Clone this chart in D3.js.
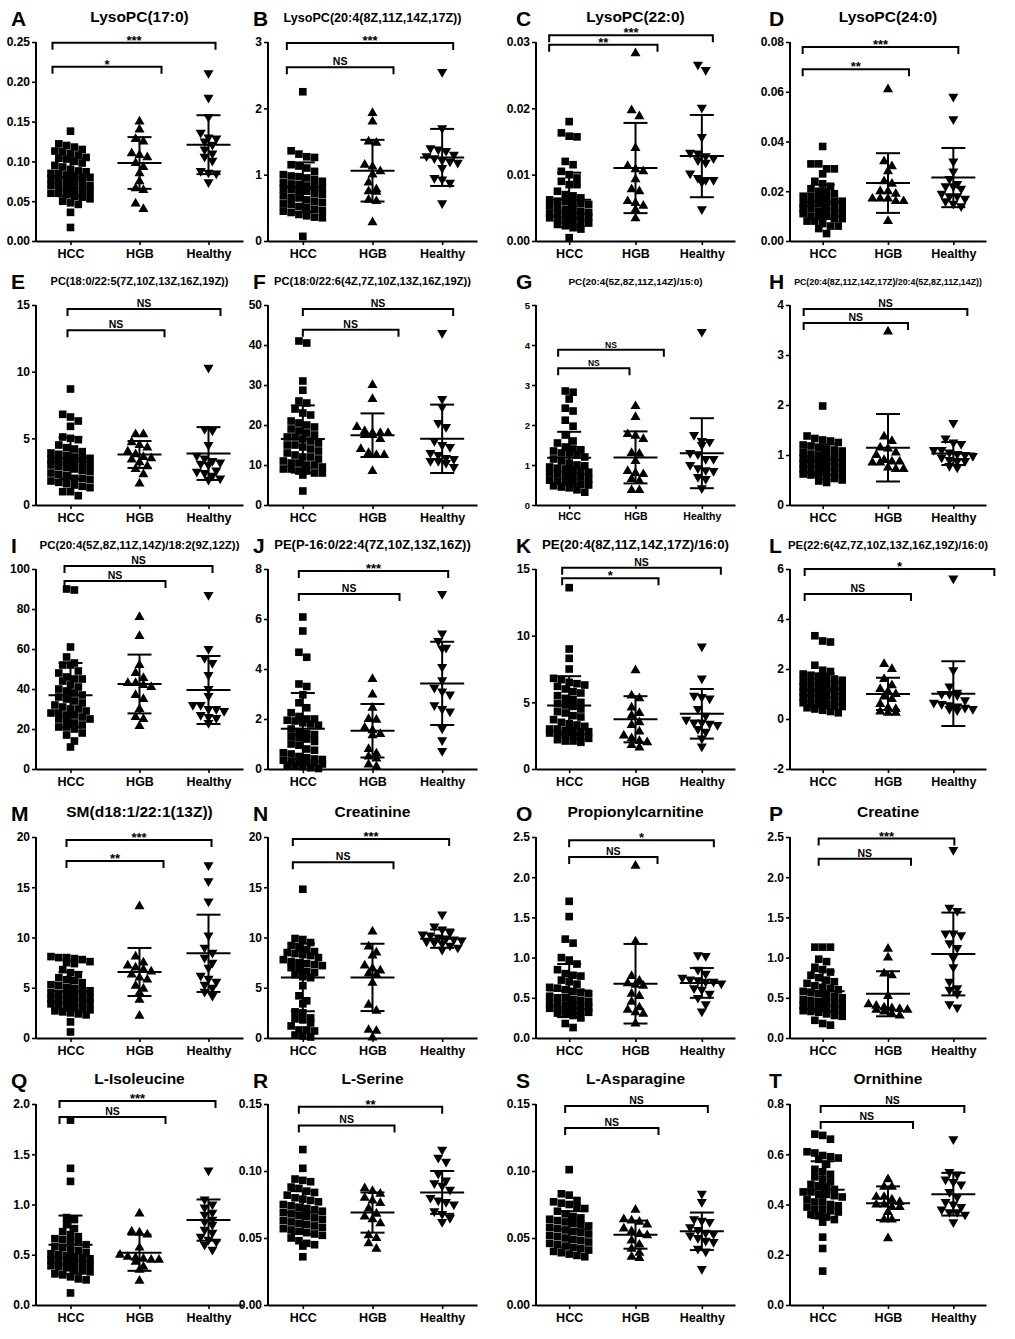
<!DOCTYPE html>
<html>
<head>
<meta charset="utf-8">
<script src="https://cdn.jsdelivr.net/npm/d3@7"></script>
<style>
  body { margin: 0; background: #fff; }
  svg text { font-family: "Liberation Sans", Arial, sans-serif; font-weight: bold; fill: #000; }
</style>
</head>
<body>
<svg id="fig" width="1015" height="1339"></svg>
<script>
// ---- DATA ----
const groups = ["HCC", "HGB", "Healthy"];
const letters = ["A","B","C","D","E","F","G","H","I","J","K","L","M","N","O","P","Q","R","S","T"];
const titles = [
  "LysoPC(17:0)", "LysoPC(20:4(8Z,11Z,14Z,17Z))", "LysoPC(22:0)", "LysoPC(24:0)",
  "PC(18:0/22:5(7Z,10Z,13Z,16Z,19Z))", "PC(18:0/22:6(4Z,7Z,10Z,13Z,16Z,19Z))",
  "PC(20:4(5Z,8Z,11Z,14Z)/15:0)", "PC(20:4(8Z,11Z,14Z,17Z)/20:4(5Z,8Z,11Z,14Z))",
  "PC(20:4(5Z,8Z,11Z,14Z)/18:2(9Z,12Z))", "PE(P-16:0/22:4(7Z,10Z,13Z,16Z))",
  "PE(20:4(8Z,11Z,14Z,17Z)/16:0)", "PE(22:6(4Z,7Z,10Z,13Z,16Z,19Z)/16:0)",
  "SM(d18:1/22:1(13Z))", "Creatinine", "Propionylcarnitine", "Creatine",
  "L-Isoleucine", "L-Serine", "L-Asparagine", "Ornithine"
];
const yMin = [0,0,0,0, 0,0,0,0, 0,0,0,-2, 0,0,0,0, 0,0,0,0];
const yMax = [0.25,3,0.03,0.08, 15,50,5,4, 100,8,15,6, 20,20,2.5,2.5, 2.0,0.15,0.15,0.8];
const tickStep = [0.05,1,0.01,0.02, 5,10,1,1, 20,2,5,2, 5,5,0.5,0.5, 0.5,0.05,0.05,0.2];
const decimals = [2,0,2,2, 0,0,0,0, 0,0,0,0, 0,0,1,1, 1,2,2,1];

// significance: HCC vs HGB (lower bracket), HCC vs Healthy (upper bracket)
const sigLow = ["*","NS","**","**","NS","NS","NS","NS","NS","NS","*","NS","**","NS","NS","NS","NS","NS","NS","NS"];
const sigTop = ["***","***","***","***","NS","NS","NS","NS","NS","***","NS","*","***","***","*","***","***","**","NS","NS"];
const bracketLow = [0.219,2.62,0.0296,0.069, 13.1,43.8,3.42,3.64, 94,7.0,14.3,5.0, 17.6,17.5,2.25,2.23, 1.87,0.134,0.132,0.728];
const bracketTop = [0.249,2.985,0.031,0.078, 14.7,49,3.88,3.92, 101.5,7.92,15.1,6.0, 19.7,19.8,2.46,2.48, 2.03,0.148,0.1485,0.792];

// mean and SD per group
const meanHCC = [0.080,0.81,0.0062,0.0158, 3.5,16.5,1.18,0.905, 36.9,1.61,4.77,1.18, 4.66,6.02,0.59,0.58, 0.60,0.069,0.0565,0.459];
const sdHCC = [0.024,0.375,0.0041,0.0068, 1.56,8.4,0.65,0.305, 16.1,1.43,2.19,0.64, 1.91,3.36,0.33,0.25, 0.29,0.016,0.0135,0.113];
const meanHGB = [0.098,1.06,0.011,0.0233, 3.79,17.45,1.19,1.145, 42.5,1.53,3.73,1.005, 6.57,6.03,0.675,0.55, 0.52,0.069,0.0525,0.405];
const sdHGB = [0.0325,0.465,0.0068,0.012, 1.01,5.45,0.65,0.675, 14.7,1.07,1.73,0.645, 2.39,3.35,0.495,0.28, 0.18,0.015,0.0105,0.067];
const meanHealthy = [0.121,1.26,0.0128,0.0255, 3.86,16.55,1.295,1.03, 39.5,3.425,4.14,1.015, 8.425,9.885,0.685,1.045, 0.845,0.084,0.055,0.441];
const sdHealthy = [0.037,0.43,0.0062,0.0119, 1.98,8.55,0.875,0.23, 17,1.665,1.86,1.295, 3.845,0.915,0.185,0.515, 0.205,0.016,0.014,0.085];

// individual samples
const hccA = [0.138,0.122,0.120,0.118,0.115,0.113,0.112,0.110,0.108,0.105,0.104,0.103,0.100,0.098,0.095,0.093,0.090,0.088,0.087,0.085,0.085,0.083,0.082,0.080,0.080,0.078,0.077,0.075,0.074,0.072,0.070,0.070,0.068,0.066,0.065,0.063,0.062,0.060,0.060,0.058,0.056,0.055,0.053,0.050,0.048,0.046,0.036,0.017];
const hgbA = [0.150,0.140,0.128,0.125,0.110,0.108,0.105,0.098,0.093,0.085,0.075,0.066,0.064,0.047,0.040];
const healthyA = [0.211,0.180,0.156,0.136,0.130,0.129,0.125,0.121,0.115,0.110,0.106,0.101,0.088,0.086,0.085,0.074];

const hccB = [2.25,1.36,1.31,1.27,1.26,1.15,1.13,1.10,1.05,1.00,0.98,0.97,0.95,0.93,0.90,0.88,0.86,0.85,0.83,0.82,0.80,0.79,0.78,0.76,0.75,0.72,0.70,0.68,0.66,0.65,0.62,0.60,0.58,0.56,0.55,0.52,0.50,0.48,0.46,0.45,0.43,0.40,0.38,0.36,0.35,0.07];
const hgbB = [1.93,1.80,1.50,1.48,1.15,1.12,1.05,1.00,0.88,0.78,0.75,0.74,0.62,0.60,0.28];
const healthyB = [2.55,1.70,1.40,1.38,1.36,1.30,1.28,1.25,1.22,1.20,1.18,1.10,0.95,0.93,0.88,0.57];

const hccC = [0.018,0.0163,0.0158,0.0157,0.012,0.0115,0.0105,0.0100,0.0095,0.0090,0.0085,0.0085,0.0075,0.0070,0.0068,0.0065,0.0062,0.0060,0.0060,0.0058,0.0057,0.0055,0.0053,0.0050,0.0048,0.0047,0.0045,0.0043,0.0042,0.0040,0.0040,0.0038,0.0037,0.0036,0.0035,0.0034,0.0032,0.0030,0.0028,0.0027,0.0025,0.0023,0.0020,0.0018,0.0005];
const hgbC = [0.0283,0.0197,0.0188,0.0140,0.0113,0.0108,0.0105,0.0093,0.0078,0.0075,0.0060,0.0057,0.0053,0.0047,0.0034];
const healthyC = [0.0266,0.0258,0.0201,0.0157,0.0133,0.0132,0.0128,0.0125,0.0122,0.0118,0.0102,0.0095,0.0092,0.0092,0.0089,0.0048];

const hccD = [0.038,0.031,0.031,0.029,0.029,0.027,0.024,0.023,0.022,0.021,0.020,0.020,0.019,0.018,0.018,0.017,0.017,0.016,0.016,0.015,0.015,0.015,0.014,0.014,0.013,0.013,0.013,0.012,0.012,0.011,0.011,0.011,0.010,0.010,0.010,0.009,0.009,0.008,0.008,0.007,0.006,0.006,0.005,0.003];
const hgbD = [0.061,0.032,0.030,0.028,0.024,0.023,0.020,0.020,0.019,0.017,0.017,0.017,0.016,0.016,0.008];
const healthyD = [0.058,0.049,0.032,0.028,0.025,0.023,0.022,0.022,0.021,0.019,0.018,0.018,0.017,0.016,0.015,0.014];

const hccE = [8.7,6.8,6.6,6.3,5.9,5.1,5.0,4.9,4.5,4.3,4.2,4.0,3.9,3.8,3.7,3.6,3.5,3.5,3.4,3.3,3.3,3.2,3.1,3.0,3.0,2.9,2.8,2.7,2.6,2.5,2.4,2.3,2.2,2.0,2.0,1.9,1.8,1.7,1.6,1.5,1.4,1.3,1.0,1.0,0.7];
const hgbE = [5.3,5.3,4.7,4.5,4.3,4.0,3.8,3.6,3.5,3.4,3.2,2.9,2.7,2.3,1.6];
const healthyE = [10.3,5.7,5.6,4.5,3.7,3.5,3.3,3.2,3.1,3.0,2.6,2.5,2.4,2.2,2.0,1.9];

const hccF = [41,40.5,31,28.7,26,25.5,24,23,22.5,21,20.5,20,19.5,19,18.5,18,17.5,17,17,16.5,16,15.5,15,15,14.5,14,13.5,13,12.5,12,12,11.5,11,10.5,10.5,10,10,9.5,9,9,8.5,8.5,8,8,7.5,3.5];
const hgbF = [30,26.5,19.5,18.5,18,18,18,17.5,17.5,16.5,14,13,12.5,12.5,8.5];
const healthyF = [43,26.5,24.5,20.5,19.5,16,15,14.5,13,12.5,11.8,11.5,11,11,10.5,9.5];

const hccG = [2.85,2.82,2.65,2.42,2.35,2.12,1.97,1.75,1.60,1.55,1.45,1.40,1.38,1.35,1.30,1.30,1.25,1.20,1.15,1.10,1.05,1.00,0.98,0.95,0.92,0.90,0.88,0.85,0.82,0.80,0.78,0.75,0.72,0.70,0.65,0.62,0.60,0.58,0.55,0.52,0.50,0.48,0.45,0.43,0.38,0.32];
const hgbG = [2.47,2.20,1.77,1.73,1.65,1.30,1.28,1.10,0.85,0.80,0.77,0.65,0.60,0.37,0.37];
const healthyG = [4.33,1.75,1.60,1.58,1.50,1.30,1.27,1.15,1.15,1.00,0.92,0.87,0.85,0.70,0.65,0.42];

const hccH = [1.98,1.38,1.33,1.30,1.28,1.25,1.20,1.18,1.15,1.12,1.10,1.08,1.05,1.02,1.00,0.98,0.96,0.95,0.93,0.92,0.90,0.88,0.86,0.85,0.83,0.82,0.80,0.78,0.77,0.75,0.72,0.70,0.68,0.66,0.65,0.63,0.62,0.60,0.58,0.55,0.53,0.50,0.48,0.45];
const hgbH = [3.47,1.37,1.28,1.15,1.13,1.05,1.00,0.90,0.87,0.87,0.85,0.85,0.75,0.72,0.72];
const healthyH = [1.64,1.33,1.25,1.22,1.10,1.10,1.05,1.02,1.00,0.98,0.95,0.90,0.88,0.88,0.78,0.75];

const hccI = [90,89.5,61,56,53,52,52,49,48,46,45,45,44,42,41,40,39,38,37,36,35,34,33,32,31,30,30,29,28,28,27,27,26,25,25,24,23,22,21,21,20,18,17,14,11];
const hgbI = [76,66.5,52,48,45.5,43,43,42,41,37,35,30,26,25,21.5];
const healthyI = [87,60,55.5,53,47,40,36.5,32,32,30,30,29,27,26,25.5,23];

const hccJ = [6.08,5.52,4.67,4.47,3.40,3.30,2.97,2.65,2.45,2.25,2.10,2.00,2.00,1.95,1.92,1.85,1.80,1.75,1.60,1.50,1.42,1.38,1.30,1.25,1.20,1.10,1.00,0.95,0.80,0.75,0.65,0.60,0.50,0.45,0.40,0.38,0.35,0.30,0.28,0.25,0.22,0.20,0.15,0.12,0.10,0.05,0.02];
const hgbJ = [3.60,2.98,2.45,2.00,1.97,1.65,1.55,1.40,1.35,0.80,0.62,0.50,0.42,0.18,0.10];
const healthyJ = [7.00,5.42,5.12,4.85,4.82,4.08,3.55,3.25,3.10,2.98,2.55,2.40,2.30,1.62,1.15,0.72];

const hccK = [13.6,9.0,8.3,7.5,6.8,6.7,6.5,6.4,6.3,6.2,6.0,5.8,5.7,5.5,5.3,5.2,5.0,4.9,4.8,4.7,4.5,4.3,4.2,4.0,3.9,3.7,3.5,3.4,3.3,3.2,3.0,3.0,2.9,2.9,2.8,2.8,2.7,2.7,2.6,2.5,2.4,2.3,2.2,2.1,2.1,2.0];
const hgbK = [7.4,5.5,5.3,4.6,4.2,4.0,3.5,3.3,2.8,2.5,2.3,2.1,2.0,1.8,1.6];
const healthyK = [9.2,6.8,5.5,5.4,5.3,4.5,4.0,3.7,3.5,3.5,3.4,3.3,3.0,2.8,2.3,1.7];

const hccL = [3.33,3.12,3.08,2.15,1.95,1.90,1.80,1.75,1.70,1.65,1.60,1.55,1.52,1.50,1.45,1.40,1.38,1.35,1.30,1.25,1.22,1.20,1.15,1.10,1.08,1.05,1.00,0.98,0.95,0.90,0.88,0.85,0.80,0.78,0.75,0.70,0.65,0.60,0.58,0.55,0.52,0.50,0.45,0.40,0.35,0.30,0.25];
const hgbL = [2.20,2.00,1.60,1.35,1.20,1.10,1.00,0.90,0.80,0.60,0.45,0.40,0.30,0.25,0.25];
const healthyL = [5.62,1.95,1.30,1.05,1.00,1.00,0.95,0.75,0.65,0.60,0.55,0.50,0.45,0.40,0.40,0.35];

const hccM = [8.1,8.0,8.0,7.9,7.8,7.6,7.5,7.4,6.8,6.5,6.3,6.0,5.8,5.7,5.5,5.3,5.2,5.0,4.9,4.8,4.7,4.5,4.4,4.3,4.2,4.1,4.0,3.9,3.8,3.7,3.6,3.5,3.5,3.4,3.3,3.2,3.0,2.9,2.8,2.7,2.6,2.5,2.4,2.3,1.6,0.6];
const hgbM = [13.1,8.1,7.5,7.2,7.0,6.8,6.6,6.3,6.0,5.8,5.2,4.9,4.5,3.8,2.2];
const healthyM = [17.2,15.6,13.6,10.2,9.0,8.5,8.0,7.5,7.0,6.2,5.9,5.6,5.3,5.0,4.6,4.2];

const hccN = [14.8,9.9,9.8,9.5,9.2,9.0,8.8,8.6,8.5,8.4,8.3,8.2,8.0,7.8,7.6,7.5,7.4,7.3,7.2,7.0,6.8,6.6,6.5,6.3,6.1,6.0,5.2,4.2,3.7,3.4,2.6,2.5,2.0,1.9,1.8,1.5,1.2,0.8,0.8,0.7,0.3,0.2,0.1];
const hgbN = [10.6,9.1,8.5,8.2,7.2,6.9,6.7,6.4,6.3,5.5,3.3,2.7,0.8,0.7,0.05];
const healthyN = [12.3,11.1,10.8,10.5,10.3,10.2,10.0,9.9,9.8,9.7,9.6,9.5,9.4,9.2,9.0,8.8];

const hccO = [1.70,1.51,1.23,1.18,1.00,0.97,0.92,0.85,0.80,0.78,0.77,0.72,0.70,0.67,0.63,0.62,0.60,0.58,0.57,0.55,0.52,0.50,0.50,0.48,0.47,0.45,0.43,0.42,0.41,0.40,0.39,0.38,0.37,0.36,0.35,0.34,0.33,0.32,0.31,0.30,0.28,0.25,0.18,0.13];
const hgbO = [2.14,1.20,0.77,0.71,0.68,0.66,0.65,0.55,0.52,0.45,0.38,0.35,0.32,0.30,0.18];
const healthyO = [1.03,1.02,0.85,0.80,0.75,0.73,0.72,0.70,0.70,0.68,0.62,0.60,0.55,0.50,0.42,0.33];

const hccP = [1.13,1.13,1.13,0.98,0.95,0.88,0.85,0.82,0.78,0.75,0.72,0.70,0.68,0.65,0.63,0.62,0.60,0.58,0.57,0.55,0.53,0.52,0.50,0.48,0.47,0.45,0.44,0.43,0.42,0.40,0.39,0.38,0.37,0.36,0.35,0.34,0.33,0.32,0.30,0.28,0.27,0.22,0.18,0.16];
const hgbP = [1.11,1.00,0.80,0.78,0.52,0.42,0.40,0.38,0.37,0.36,0.35,0.35,0.33,0.30,0.28];
const healthyP = [2.34,1.62,1.58,1.30,1.30,1.28,1.18,1.12,1.00,0.88,0.70,0.62,0.60,0.55,0.42,0.38];

const hccQ = [1.84,1.36,1.23,0.87,0.85,0.80,0.76,0.73,0.70,0.68,0.66,0.65,0.63,0.62,0.60,0.58,0.57,0.55,0.54,0.52,0.51,0.50,0.49,0.48,0.47,0.46,0.45,0.44,0.43,0.42,0.41,0.40,0.39,0.38,0.37,0.35,0.34,0.33,0.31,0.30,0.28,0.26,0.25,0.12];
const hgbQ = [0.91,0.73,0.72,0.70,0.57,0.50,0.48,0.47,0.46,0.45,0.45,0.43,0.38,0.35,0.24];
const healthyQ = [1.34,1.05,1.00,0.97,0.92,0.90,0.85,0.83,0.80,0.75,0.72,0.68,0.65,0.63,0.60,0.55];

const hccR = [0.116,0.102,0.094,0.093,0.092,0.088,0.087,0.085,0.084,0.082,0.080,0.079,0.078,0.077,0.075,0.074,0.073,0.072,0.071,0.070,0.069,0.068,0.067,0.066,0.065,0.064,0.063,0.062,0.061,0.060,0.059,0.058,0.057,0.056,0.055,0.054,0.053,0.052,0.050,0.048,0.046,0.045,0.044,0.036];
const hgbR = [0.087,0.085,0.083,0.080,0.078,0.076,0.072,0.068,0.066,0.064,0.061,0.052,0.050,0.046,0.042];
const healthyR = [0.116,0.110,0.107,0.098,0.093,0.091,0.089,0.086,0.080,0.078,0.077,0.075,0.070,0.068,0.065,0.062];

const hccS = [0.101,0.083,0.082,0.078,0.077,0.076,0.075,0.073,0.072,0.070,0.068,0.066,0.065,0.064,0.063,0.062,0.061,0.060,0.059,0.058,0.057,0.056,0.055,0.054,0.053,0.052,0.051,0.050,0.049,0.048,0.047,0.046,0.045,0.044,0.043,0.042,0.041,0.040,0.039,0.038,0.037,0.036];
const hgbS = [0.071,0.064,0.063,0.062,0.060,0.057,0.055,0.053,0.052,0.048,0.045,0.042,0.039,0.036,0.035];
const healthyS = [0.083,0.077,0.064,0.063,0.062,0.058,0.056,0.054,0.053,0.052,0.050,0.048,0.047,0.042,0.040,0.027];

const hccT = [0.68,0.675,0.66,0.61,0.605,0.595,0.59,0.585,0.58,0.56,0.54,0.53,0.52,0.51,0.50,0.49,0.48,0.475,0.47,0.46,0.45,0.45,0.44,0.44,0.435,0.43,0.42,0.41,0.41,0.40,0.395,0.39,0.38,0.38,0.375,0.37,0.36,0.355,0.35,0.34,0.33,0.27,0.225,0.135];
const hgbT = [0.50,0.47,0.47,0.43,0.43,0.42,0.41,0.40,0.40,0.39,0.39,0.37,0.34,0.34,0.265];
const healthyT = [0.66,0.53,0.52,0.50,0.49,0.48,0.45,0.43,0.41,0.40,0.39,0.38,0.37,0.37,0.36,0.33];

// lookup table built from the arrays above
const samples = {
  A: [hccA, hgbA, healthyA], B: [hccB, hgbB, healthyB], C: [hccC, hgbC, healthyC], D: [hccD, hgbD, healthyD],
  E: [hccE, hgbE, healthyE], F: [hccF, hgbF, healthyF], G: [hccG, hgbG, healthyG], H: [hccH, hgbH, healthyH],
  I: [hccI, hgbI, healthyI], J: [hccJ, hgbJ, healthyJ], K: [hccK, hgbK, healthyK], L: [hccL, hgbL, healthyL],
  M: [hccM, hgbM, healthyM], N: [hccN, hgbN, healthyN], O: [hccO, hgbO, healthyO], P: [hccP, hgbP, healthyP],
  Q: [hccQ, hgbQ, healthyQ], R: [hccR, hgbR, healthyR], S: [hccS, hgbS, healthyS], T: [hccT, hgbT, healthyT]
};

// ---- LAYOUT ----
const colLeft = [36, 268, 536, 790];
const colRight = [243, 477, 735, 986];
const rowTop = [42, 305, 569, 837, 1104];
const rowBottom = [241, 505, 769, 1038, 1305];
const letterX = [11, 253, 516, 769];
const titleSize = [15.5,12.6,15.5,15.5, 11,11.2,9.9,8.8, 11.5,13,13.3,11.4, 15.5,15.5,15.5,15.5, 15.5,15.5,15.5,15.5];
// bracket end offsets in px: left of HCC, right of Healthy (top), right of HGB (lower)
const brLeft = [-18,-16,-20,-20, -3,0,-11,-19, -6,-4,-7,-18, -4,-10,0,-4, -11,-4,-4,-2];
const brTopR = [7,11,11,5, 12,11,-38,14, 4,6,19,41, 3,7,12,1, 7,0,6,11];
const brLowR = [22,21,22,21, 25,26,-6,20, 26,27,23,23, 24,21,22,23, 26,22,23,25];

const svg = d3.select("#fig");
const shapes = [d3.symbolSquare, d3.symbolTriangle, d3.symbolTriangle];
const shapeSize = [58, 44, 44];
const means = [meanHCC, meanHGB, meanHealthy];
const sds = [sdHCC, sdHGB, sdHealthy];

// GraphPad-like scatter: points in the same pixel band spread sideways
function swarm(vals, y, cx) {
  const pts = vals.map(v => ({ v, py: y(v) })).sort((a, b) => a.py - b.py);
  const binH = 7, gap = 7.8, maxRow = 6;
  const out = [];
  let bin = [];
  let flip = 0;
  const flush = () => {
    const shift = bin.length < maxRow && bin.length % 2 === 0 ? 0 : 0;
    bin.forEach((p, k) => out.push({ px: cx + shift + (k - (bin.length - 1) / 2) * gap, py: p.py }));
    bin = [];
    flip++;
  };
  pts.forEach(p => {
    if (bin.length && (p.py - bin[0].py >= binH || bin.length >= maxRow)) flush();
    bin.push(p);
  });
  flush();
  return out;
}

letters.forEach((L, i) => {
  const col = i % 4, row = Math.floor(i / 4);
  const x = d3.scalePoint().domain(groups).range([colLeft[col], colRight[col]]).padding(0.5);
  const y = d3.scaleLinear().domain([yMin[i], yMax[i]]).range([rowBottom[row], rowTop[row]]);
  const g = svg.append("g").attr("class", "panel");
  const small = L === "G";

  // panel letter + title
  g.append("text")
    .attr("x", letterX[col]).attr("y", rowTop[row] - 16)
    .attr("font-size", 21)
    .text(L);
  g.append("text")
    .attr("x", x("HGB")).attr("y", rowTop[row] - 20)
    .attr("text-anchor", "middle")
    .attr("font-size", titleSize[i])
    .text(titles[i]);

  // axes
  const ticks = d3.range(0, Math.round((yMax[i] - yMin[i]) / tickStep[i]) + 1).map(k => yMin[i] + k * tickStep[i]);
  const yAxis = d3.axisLeft(y)
    .tickValues(ticks)
    .tickFormat(d => d.toFixed(decimals[i]))
    .tickSize(4).tickSizeOuter(0).tickPadding(2);
  const ya = g.append("g").attr("transform", `translate(${colLeft[col]},0)`).call(yAxis);
  ya.selectAll("text").attr("font-size", small ? 9.5 : 12).attr("font-family", null);

  const xAxis = d3.axisBottom(x).tickSize(4).tickSizeOuter(0).tickPadding(4);
  const xa = g.append("g").attr("transform", `translate(0,${rowBottom[row]})`).call(xAxis);
  xa.selectAll("text").attr("font-size", small ? 10.5 : 12.5).attr("font-family", null);

  [ya, xa].forEach(a => {
    a.select(".domain").attr("stroke", "#000").attr("stroke-width", 2);
    a.selectAll(".tick line").attr("stroke", "#000").attr("stroke-width", 1.6);
  });
  ya.select(".domain").attr("d", `M0,${rowBottom[row] + 1}V${rowTop[row]}`);

  // points
  groups.forEach((grp, gi) => {
    const pts = swarm(samples[L][gi], y, x(grp));
    const sym = d3.symbol().type(shapes[gi]).size(shapeSize[gi]);
    g.append("g").selectAll("path")
      .data(pts)
      .join("path")
      .attr("d", sym)
      .attr("fill", "#000")
      .attr("transform", d => `translate(${d.px},${d.py})${gi === 2 ? " rotate(180)" : ""}`);
  });

  // mean +/- SD
  groups.forEach((grp, gi) => {
    const cx = x(grp), m = means[gi][i], s = sds[gi][i];
    const eb = g.append("g").attr("stroke", "#000").attr("stroke-width", 2);
    eb.append("line").attr("x1", cx).attr("x2", cx).attr("y1", y(m - s)).attr("y2", y(m + s));
    eb.append("line").attr("x1", cx - 22).attr("x2", cx + 22).attr("y1", y(m)).attr("y2", y(m));
    [m - s, m + s].forEach(v => {
      eb.append("line").attr("x1", cx - 12).attr("x2", cx + 12).attr("y1", y(v)).attr("y2", y(v));
    });
  });

  // significance brackets
  const x0 = x("HCC") + brLeft[i];
  const brackets = [
    { x1: x0, x2: x("HGB") + brLowR[i], v: bracketLow[i], label: sigLow[i] },
    { x1: x0, x2: x("Healthy") + brTopR[i], v: bracketTop[i], label: sigTop[i] }
  ];
  brackets.forEach(b => {
    const by = y(b.v);
    g.append("path")
      .attr("d", `M${b.x1},${by + 7}V${by}H${b.x2}V${by + 7}`)
      .attr("fill", "none").attr("stroke", "#000").attr("stroke-width", 2);
    const isNS = b.label === "NS";
    g.append("text")
      .attr("x", (b.x1 + b.x2) / 2)
      .attr("y", by - (isNS ? 2 : -2))
      .attr("text-anchor", "middle")
      .attr("font-size", isNS ? (small ? 8.5 : 10.5) : (small ? 10 : 13))
      .text(b.label);
  });
});
</script>
</body>
</html>
